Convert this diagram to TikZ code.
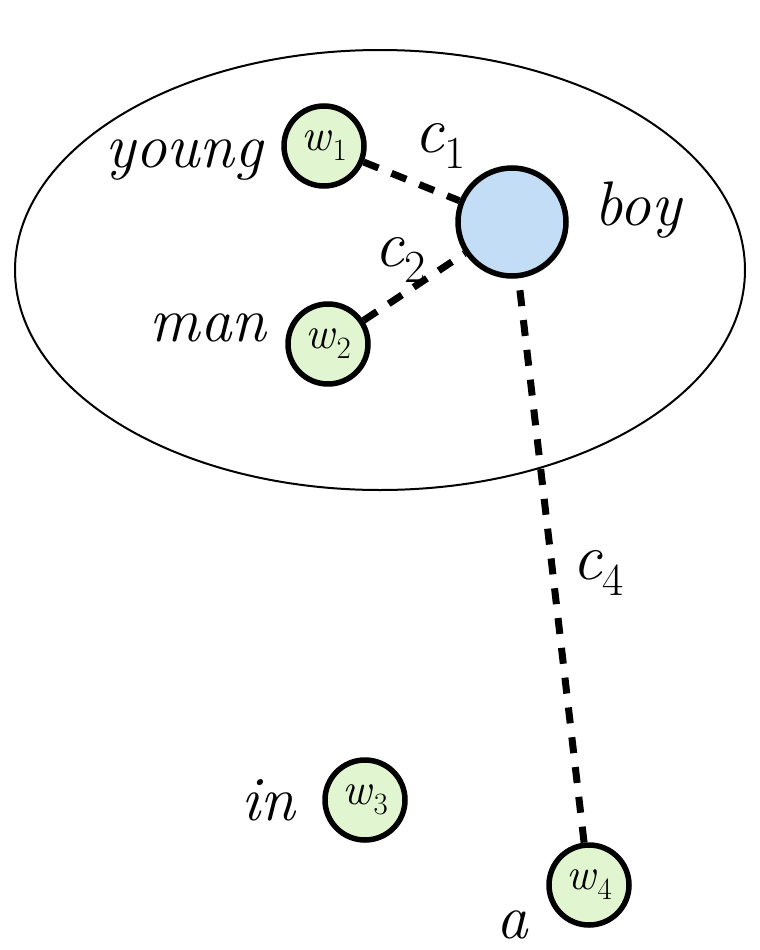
\documentclass[tikz,border=0pt]{standalone}
\usepackage{fontspec}
\usetikzlibrary{shapes.geometric}
\setmainfont{Latin Modern Roman}
\definecolor{wfill}{HTML}{E0F5D0}
\definecolor{bfill}{HTML}{C4DDF6}
\newcommand{\wsub}[2]{\textit{#1}\kern0.02em\raisebox{-0.22em}{\fontsize{31}{31}\selectfont #2}}
\newcommand{\csub}[2]{\textit{#1}\raisebox{-0.25em}{\fontsize{46}{46}\selectfont #2}}
\begin{document}
\begin{tikzpicture}[x=1pt,y=-1pt,
  word/.style={circle,draw=black,line width=5.5pt,fill=wfill,minimum size=80pt,inner sep=0pt,font=\fontsize{45}{45}\selectfont},
  hub/.style={circle,draw=black,line width=5.5pt,fill=bfill,minimum size=108pt,inner sep=0pt},
  lbl/.style={font=\fontsize{63}{63}\selectfont\itshape,inner sep=0pt},
  clbl/.style={font=\fontsize{66}{66}\selectfont,inner sep=0pt},
  link/.style={line width=7pt,dash pattern=on 16pt off 14pt}]
\useasboundingbox (0,0) rectangle (760,950);
\node[draw=black,line width=2pt,ellipse,minimum width=730pt,minimum height=440pt,inner sep=0pt] (ell) at (380,270) {};
\node[hub] (boy) at (512,222) {};
\node[word] (w1) at (324,146) {\wsub{w}{1}};
\node[word] (w2) at (328,344) {\wsub{w}{2}};
\node[word] (w3) at (365,800) {\wsub{w}{3}};
\node[word] (w4) at (589,885) {\wsub{w}{4}};
\draw[link] (w1) -- (boy);
\draw[link] (w2) -- (boy);
\draw[link] (w4) -- (boy);
\node[lbl] (tyoung) at (184,160) {young};
\node[lbl] (tman) at (208,328) {man};
\node[lbl] (tboy) at (638,210) {boy};
\node[lbl] (tin) at (268,800) {in};
\node[lbl] (ta) at (512,925) {a};
\node[clbl] (c1) at (440,146) {\csub{c}{1}};
\node[clbl] (c2) at (400,260) {\csub{c}{2}};
\node[clbl] (c4) at (598,573) {\csub{c}{4}};
\end{tikzpicture}
\end{document}
